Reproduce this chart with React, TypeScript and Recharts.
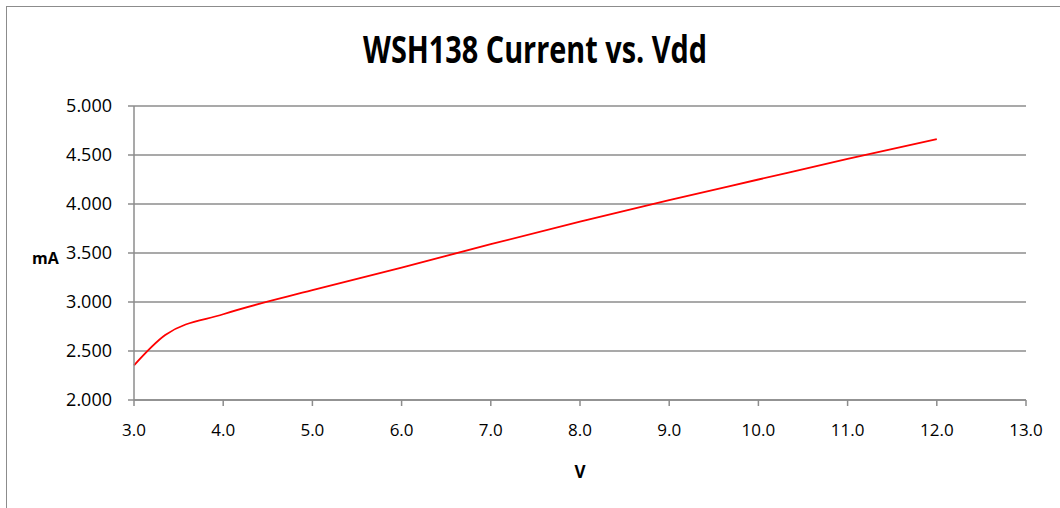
import { LineChart, Line, XAxis, YAxis, CartesianGrid, Label } from "recharts";

// Vdd (V) vs supply current (mA)
const vdd = [3.0, 3.35, 4.0, 5.0, 6.0, 7.0, 8.0, 9.0, 10.0, 11.0, 12.0];
const currentMa = [2.354, 2.663, 2.875, 3.12, 3.35, 3.59, 3.82, 4.04, 4.25, 4.46, 4.663];

const xTicks = [3, 4, 5, 6, 7, 8, 9, 10, 11, 12, 13];
const yTicks = [2, 2.5, 3, 3.5, 4, 4.5, 5];

const data = vdd.map((v, i) => ({ v, ma: currentMa[i] }));

const gray = "#8c8c8c";
const font = "'Open Sans', sans-serif";

export default function App() {
  return (
    <div
      style={{
        position: "absolute",
        left: 0,
        top: 0,
        width: 1060,
        height: 508,
        overflow: "hidden",
        background: "#fff",
      }}
    >
      {/* chart frame, runs off the right and bottom edges */}
      <div
        style={{
          position: "absolute",
          left: 6,
          top: 6,
          width: 1200,
          height: 700,
          border: `1px solid ${gray}`,
        }}
      />
      <svg
        width={1060}
        height={508}
        style={{ position: "absolute", left: 0, top: 0 }}
      >
        <text
          x={363}
          y={63}
          fontFamily={font}
          fontWeight={700}
          fontSize={37}
          textLength={344}
          lengthAdjust="spacingAndGlyphs"
          fill="#000"
        >
          WSH138 Current vs. Vdd
        </text>
      </svg>
      <div style={{ position: "absolute", left: 0, top: 0 }}>
        <LineChart
          width={1060}
          height={508}
          data={data}
          margin={{ top: 106, right: 34, bottom: 0, left: 0 }}
        >
          <CartesianGrid vertical={false} stroke={gray} strokeWidth={1.5} />
          <XAxis
            dataKey="v"
            type="number"
            domain={[3, 13]}
            ticks={xTicks}
            tickFormatter={(t: number) => t.toFixed(1)}
            height={108}
            stroke={gray}
            strokeWidth={1.5}
            tickSize={6}
            tickMargin={18}
            tick={{ fill: "#000", fontFamily: font, fontSize: 17 }}
          >
            <Label
              value="V"
              position="insideBottom"
              offset={30}
              style={{ fontFamily: font, fontWeight: 700, fontSize: 17, fill: "#000" }}
            />
          </XAxis>
          <YAxis
            type="number"
            domain={[2, 5]}
            ticks={yTicks}
            tickFormatter={(t: number) => t.toFixed(3)}
            width={134}
            stroke={gray}
            strokeWidth={1.5}
            tickSize={6}
            tickMargin={16}
            tick={{ fill: "#000", fontFamily: font, fontSize: 18 }}
          >
            <Label
              value="mA"
              position="insideLeft"
              offset={32}
              dy={5}
              style={{ fontFamily: font, fontWeight: 700, fontSize: 16, fill: "#000" }}
            />
          </YAxis>
          <Line
            dataKey="ma"
            type="monotone"
            stroke="#ff0000"
            strokeWidth={1.8}
            dot={false}
            isAnimationActive={false}
          />
        </LineChart>
      </div>
    </div>
  );
}
